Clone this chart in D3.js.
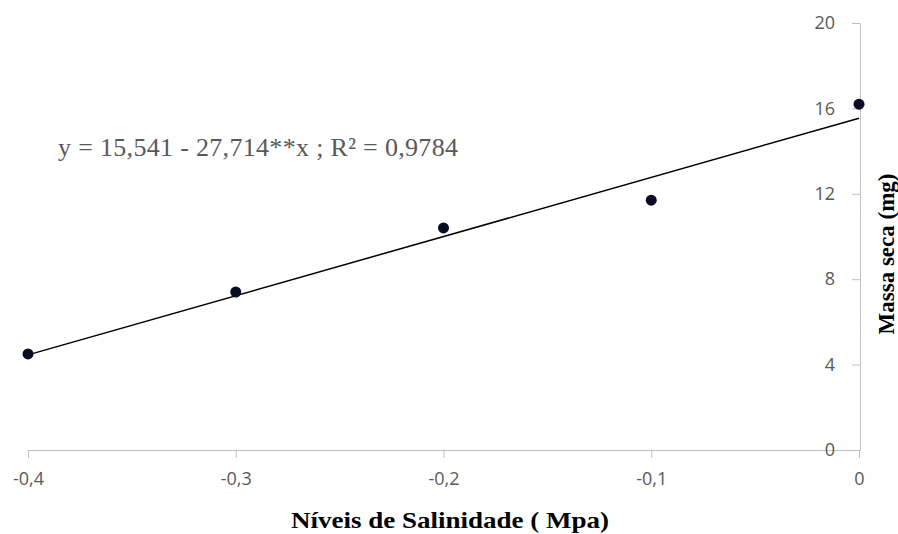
<!DOCTYPE html>
<html lang="pt">
<head><meta charset="utf-8"/>
<script src="https://cdn.jsdelivr.net/npm/d3@7/dist/d3.min.js"></script>
<style>
body { margin:0; background:#fff; }
.axis path, .axis line { stroke:#bfbfbf; }
.axis text { fill:#595959; font-family:"Open Sans",sans-serif; font-size:18px; }
</style>
</head>
<body>
<svg id="chart" width="898" height="534"></svg>
<script>
// salinity levels (MPa) and dry mass (mg)
var niveis = [-0.4, -0.3, -0.2, -0.1, 0];
var massa = [4.5, 7.4, 10.4, 11.7, 16.2];
var xTicks = [-0.4, -0.3, -0.2, -0.1, 0];
var xLabels = ["-0,4", "-0,3", "-0,2", "-0,1", "0"];
var yTicks = [0, 4, 8, 12, 16, 20];
// regression coefficients
var intercept = 15.541, slope = 27.714;

var svg = d3.select("#chart");
var x = d3.scaleLinear().domain([-0.4, 0]).range([28, 859]);
var y = d3.scaleLinear().domain([0, 20]).range([450, 23]);

svg.append("g").attr("class","axis")
	.attr("transform","translate(0,450)")
	.call(d3.axisBottom(x).tickValues(xTicks).tickSize(8).tickSizeOuter(0).tickPadding(14)
		.tickFormat((d,i) => xLabels[i]));

svg.append("g").attr("class","axis")
	.attr("transform","translate(860,0)")
	.call(d3.axisLeft(y).tickValues(yTicks).tickSize(8).tickSizeOuter(0).tickPadding(17));

// trend line
var trend = [-0.4, 0].map(v => ({x:v, y:intercept + slope*v}));
svg.append("path")
	.attr("d", d3.line().x(d => x(d.x)).y(d => y(d.y))(trend))
	.attr("fill","none").attr("stroke","#000").attr("stroke-width",1.5);

svg.selectAll(".pt").data(niveis).enter().append("circle")
	.attr("class","pt")
	.attr("cx", d => x(d))
	.attr("cy", (d,i) => y(massa[i]))
	.attr("r", 5.5)
	.attr("fill","#0b0b24");

svg.append("text")
	.attr("x", 58).attr("y", 156)
	.attr("font-family","'Liberation Serif','Times New Roman',serif")
	.attr("font-size", 26).attr("fill","#595959")
	.attr("textLength", 400).attr("lengthAdjust","spacing")
	.text("y = 15,541 - 27,714**x ; R² = 0,9784");

svg.append("text")
	.attr("x", 450).attr("y", 528)
	.attr("text-anchor","middle")
	.attr("font-family","'Liberation Serif','Times New Roman',serif")
	.attr("font-weight","bold").attr("font-size", 24).attr("fill","#000")
	.attr("textLength", 318).attr("lengthAdjust","spacingAndGlyphs")
	.text("Níveis de Salinidade ( Mpa)");

svg.append("text")
	.attr("transform","translate(894,254) rotate(-90)")
	.attr("text-anchor","middle")
	.attr("font-family","'Liberation Serif','Times New Roman',serif")
	.attr("font-weight","bold").attr("font-size", 23).attr("fill","#000")
	.text("Massa seca (mg)");
</script>
</body>
</html>
